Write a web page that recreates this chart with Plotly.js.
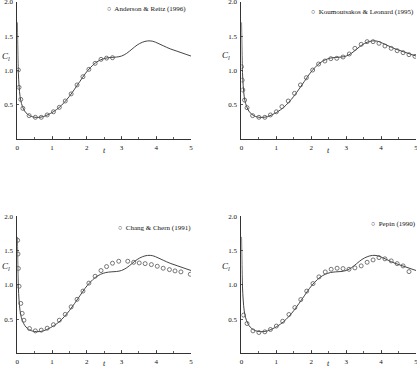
<!DOCTYPE html>
<html>
<head>
<meta charset="utf-8">
<script src="https://cdn.plot.ly/plotly-3.0.1.min.js"></script>
<style>
  html, body { margin: 0; padding: 0; background: #fff; }
  #chart { width: 417px; height: 367px; }
</style>
</head>
<body>
<div id="chart"></div>
<script>
  // present simulation (solid line, same in all four panels)
  const simT = [0.003, 0.01, 0.02, 0.03, 0.05, 0.08, 0.12, 0.18, 0.25, 0.35, 0.45, 0.55, 0.65, 0.75, 0.85, 0.95,
    1.05, 1.2, 1.35, 1.5, 1.65, 1.8, 1.95, 2.1, 2.25, 2.4, 2.55, 2.7, 2.85, 3.0, 3.15, 3.3, 3.45, 3.6, 3.75,
    3.9, 4.05, 4.2, 4.4, 4.6, 4.8, 5.0];
  const simCl = [1.7, 1.45, 1.15, 0.97, 0.78, 0.62, 0.52, 0.44, 0.385, 0.345, 0.325, 0.318, 0.32, 0.33, 0.35, 0.375,
    0.405, 0.46, 0.535, 0.625, 0.73, 0.84, 0.95, 1.04, 1.11, 1.155, 1.18, 1.19, 1.195, 1.21, 1.25, 1.31, 1.37, 1.41, 1.43,
    1.425, 1.395, 1.36, 1.315, 1.28, 1.245, 1.21];

  // Anderson & Reitz (1996)
  const arT = [0.03, 0.05, 0.1, 0.16, 0.34, 0.52, 0.69, 0.86, 1.04, 1.21, 1.38, 1.55, 1.72, 1.89, 2.06, 2.24, 2.41, 2.57, 2.74];
  const arCl = [1.007, 0.755, 0.58, 0.45, 0.344, 0.32, 0.32, 0.354, 0.40, 0.465, 0.557, 0.66, 0.79, 0.91, 1.017, 1.104, 1.162, 1.18, 1.186];

  // Koumoutsakos & Leonard (1995)
  const klT = [0.0, 0.02, 0.04, 0.09, 0.16, 0.32, 0.5, 0.67, 0.83, 1.0, 1.16, 1.34, 1.52, 1.69, 1.86, 2.04, 2.21, 2.39,
    2.56, 2.73, 2.91, 3.09, 3.25, 3.43, 3.6, 3.77, 3.94, 4.11, 4.29, 4.46, 4.63, 4.8, 4.97];
  const klCl = [1.055, 0.86, 0.717, 0.57, 0.46, 0.344, 0.32, 0.32, 0.354, 0.40, 0.475, 0.557, 0.668, 0.79, 0.896, 1.007,
    1.094, 1.138, 1.172, 1.177, 1.196, 1.24, 1.322, 1.38, 1.419, 1.419, 1.395, 1.356, 1.322, 1.288, 1.259, 1.23, 1.206];

  // Chang & Chern (1991)
  const ccT = [0.01, 0.02, 0.03, 0.05, 0.1, 0.14, 0.19, 0.35, 0.52, 0.69, 0.86, 1.04, 1.21, 1.38, 1.55, 1.72, 1.89, 2.06,
    2.24, 2.41, 2.57, 2.74, 2.92, 3.18, 3.35, 3.51, 3.68, 3.86, 4.03, 4.2, 4.38, 4.54, 4.71, 4.98];
  const ccCl = [1.65, 1.45, 1.24, 0.98, 0.73, 0.585, 0.485, 0.364, 0.33, 0.34, 0.369, 0.42, 0.485, 0.57, 0.68, 0.79, 0.91,
    1.026, 1.126, 1.209, 1.267, 1.316, 1.345, 1.345, 1.33, 1.32, 1.31, 1.296, 1.272, 1.243, 1.223, 1.204, 1.19, 1.155];

  // Pepin (1990)
  const ppT = [0.06, 0.16, 0.33, 0.5, 0.67, 0.83, 1.0, 1.18, 1.36, 1.53, 1.7, 1.87, 2.05, 2.22, 2.4, 2.57, 2.74, 2.91,
    3.08, 3.25, 3.43, 3.6, 3.77, 3.94, 4.11, 4.29, 4.46, 4.63, 4.8];
  const ppCl = [0.56, 0.437, 0.33, 0.306, 0.316, 0.35, 0.40, 0.47, 0.568, 0.67, 0.786, 0.91, 1.019, 1.117, 1.189, 1.228,
    1.243, 1.238, 1.228, 1.248, 1.277, 1.33, 1.364, 1.398, 1.38, 1.35, 1.31, 1.277, 1.194];

  const panelNames = ['Anderson & Reitz (1996)', 'Koumoutsakos & Leonard (1995)', 'Chang & Chern (1991)', 'Pepin (1990)'];
  const panelData = [[arT, arCl], [klT, klCl], [ccT, ccCl], [ppT, ppCl]];

  const FONT = 'Liberation Serif, Times New Roman, serif';
  const INK = '#333';

  const traces = [];
  panelData.forEach((d, i) => {
    const sfx = i === 0 ? '' : String(i + 1);
    traces.push({
      x: simT, y: simCl, xaxis: 'x' + sfx, yaxis: 'y' + sfx,
      type: 'scatter', mode: 'lines', line: { color: '#444', width: 1, shape: 'spline' },
      hoverinfo: 'skip'
    });
    traces.push({
      x: d[0], y: d[1], xaxis: 'x' + sfx, yaxis: 'y' + sfx,
      type: 'scatter', mode: 'markers', name: panelNames[i],
      marker: { symbol: 'circle-open', size: 4, color: '#555', line: { width: 0.8, color: '#555' } }
    });
  });

  // panel domains (paper fractions)
  const colX = [[0.0415, 0.458], [0.579, 0.9976]];
  const rowY = [[0.6204, 0.9954], [0.0368, 0.4106]];

  function xAx(dom, anchor) {
    return {
      domain: dom, anchor: anchor, range: [0, 5], tickvals: [0, 1, 2, 3, 4, 5],
      ticks: 'inside', ticklen: 3, tickwidth: 0.8, tickcolor: INK,
      minor: { dtick: 0.5, ticks: 'inside', ticklen: 2, tickcolor: INK },
      showline: true, linecolor: INK, linewidth: 1, showgrid: false, zeroline: false,
      tickfont: { family: FONT, size: 7, color: '#111' }, ticklabelstandoff: 1,
      ticklabeloverflow: 'allow'
    };
  }
  function yAx(dom, anchor) {
    return {
      domain: dom, anchor: anchor, range: [0, 2], tickvals: [0.5, 1.0, 1.5, 2.0], tickformat: '.1f',
      ticks: 'inside', ticklen: 2, tickwidth: 0.8, tickcolor: INK,
      showline: true, linecolor: INK, linewidth: 1, showgrid: false, zeroline: false,
      tickfont: { family: FONT, size: 7, color: '#111' }, ticklabelstandoff: 2,
      ticklabeloverflow: 'allow'
    };
  }

  // labels: legend text, C_l and t
  const legendPos = [[105, 9], [309, 12], [116, 228], [369, 224]];
  const clPos = [[6, 57], [226, 55], [6, 266], [226, 266]];
  const tPos = [[104, 150], [328, 150], [104, 363], [328, 363]];
  const annotations = [];
  for (let i = 0; i < 4; i++) {
    annotations.push({
      xref: 'paper', yref: 'paper', x: legendPos[i][0] / 417, y: 1 - legendPos[i][1] / 367,
      xanchor: 'left', yanchor: 'middle', showarrow: false,
      text: '\u25CB  ' + panelNames[i].replace('&', '&amp;'),
      font: { family: FONT, size: 7, color: '#111' }
    });
    annotations.push({
      xref: 'paper', yref: 'paper', x: clPos[i][0] / 417, y: 1 - clPos[i][1] / 367,
      xanchor: 'center', yanchor: 'middle', showarrow: false,
      text: '<i>C</i><sub><i>l</i></sub>', font: { family: FONT, size: 9, color: '#111' }
    });
    annotations.push({
      xref: 'paper', yref: 'paper', x: tPos[i][0] / 417, y: 1 - tPos[i][1] / 367,
      xanchor: 'center', yanchor: 'middle', showarrow: false,
      text: '<i>t</i>', font: { family: FONT, size: 8, color: '#111' }
    });
  }

  const layout = {
    width: 417, height: 367,
    margin: { l: 0, r: 0, t: 0, b: 0 },
    paper_bgcolor: '#fff', plot_bgcolor: '#fff',
    showlegend: false,
    xaxis: xAx(colX[0], 'y'), yaxis: yAx(rowY[0], 'x'),
    xaxis2: xAx(colX[1], 'y2'), yaxis2: yAx(rowY[0], 'x2'),
    xaxis3: xAx(colX[0], 'y3'), yaxis3: yAx(rowY[1], 'x3'),
    xaxis4: xAx(colX[1], 'y4'), yaxis4: yAx(rowY[1], 'x4'),
    annotations: annotations
  };

  Plotly.newPlot('chart', traces, layout, { displayModeBar: false, staticPlot: true });
</script>
</body>
</html>
